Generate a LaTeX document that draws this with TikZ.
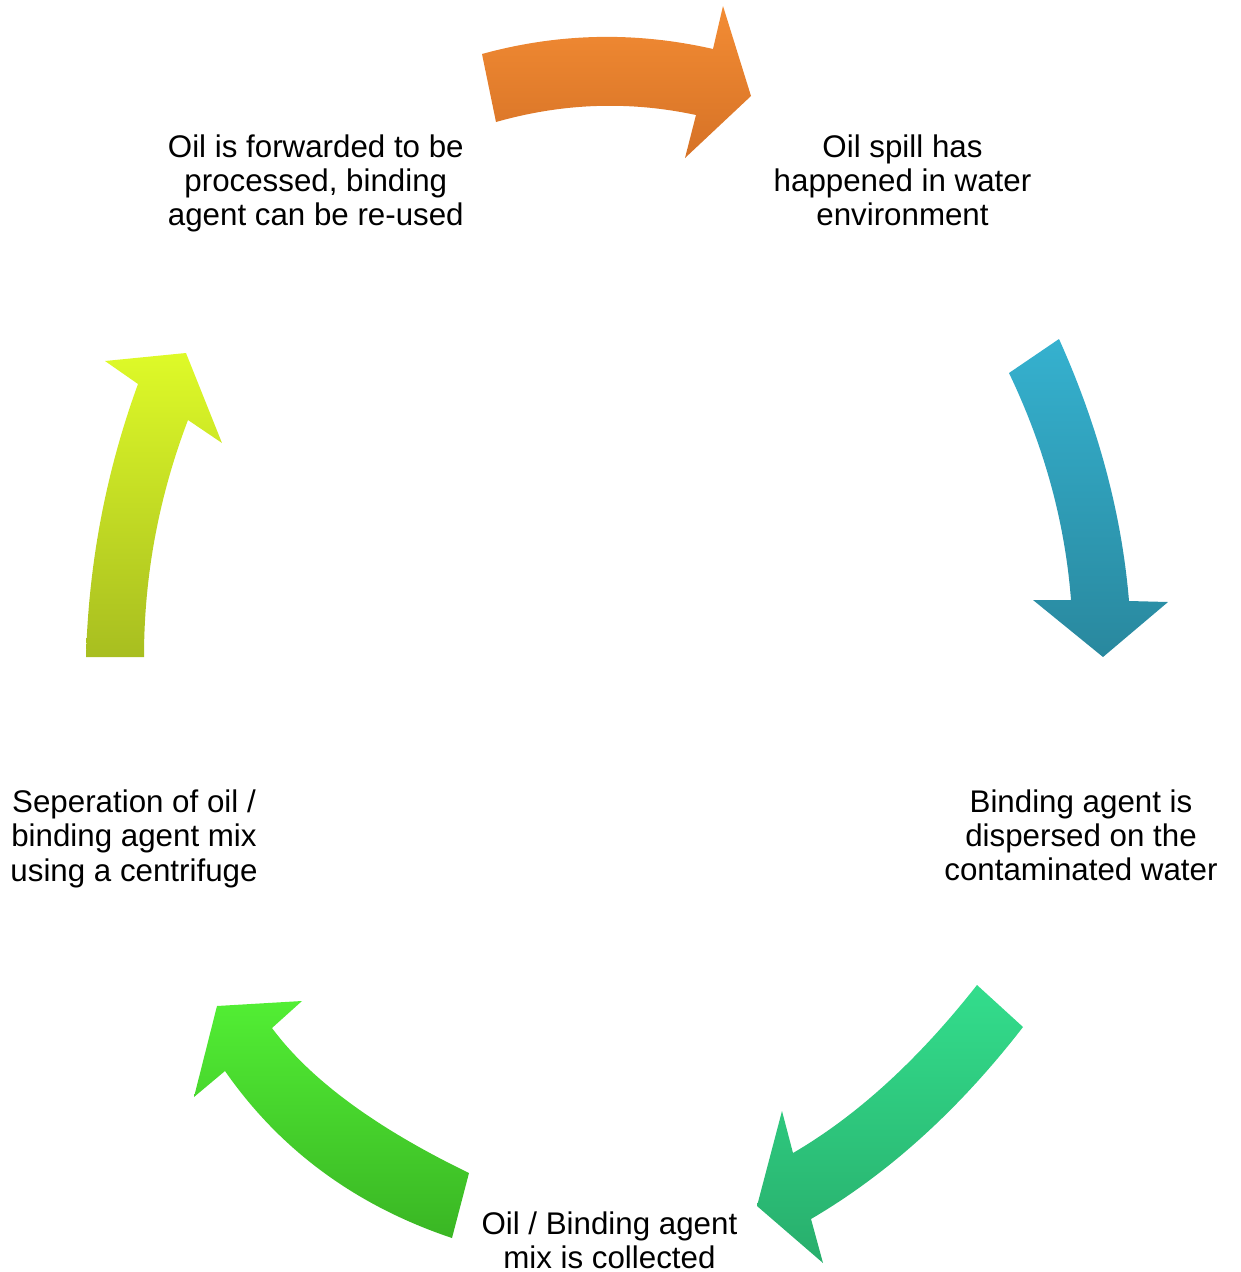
\documentclass[tikz,border=0pt]{standalone}
\usepackage{fontspec}
\setmainfont{Liberation Sans}
\definecolor{orTop}{RGB}{243,140,52}
\definecolor{orBot}{RGB}{214,114,38}
\definecolor{tlTop}{RGB}{53,177,207}
\definecolor{tlBot}{RGB}{41,136,158}
\definecolor{gaTop}{RGB}{51,221,140}
\definecolor{gaBot}{RGB}{40,174,108}
\definecolor{gbTop}{RGB}{82,238,52}
\definecolor{gbBot}{RGB}{58,182,36}
\definecolor{ygTop}{RGB}{222,250,40}
\definecolor{ygBot}{RGB}{168,190,32}
\tikzset{
  lbl/.style={anchor=north, inner sep=0pt, outer sep=0pt, align=center,
    font=\fontsize{31.3}{34.4}\selectfont},
  cyc/.style={draw=none}
}
\newcommand{\fst}{\rule{0pt}{25pt}}
\begin{document}
\begin{tikzpicture}[x=1pt,y=-1pt]
\useasboundingbox (0,0) rectangle (1240,1272);
% orange arrow (top)
\shade[cyc, top color=orTop, bottom color=orBot]
  (482,54) .. controls (558.3,33) and (635.3,31.3) .. (713,49)
  -- (723,6) -- (751,96) -- (685,158) -- (696,115)
  .. controls (629.3,100.7) and (562.7,103) .. (496,122) -- cycle;
% teal arrow (right)
\shade[cyc, top color=tlTop, bottom color=tlBot]
  (1009,373) -- (1059,339) .. controls (1098.3,426.3) and (1121.7,513.7) .. (1129,601)
  -- (1168,602) -- (1103,657) -- (1033,600) -- (1071,600)
  .. controls (1065,522.3) and (1044.3,446.7) .. (1009,373) -- cycle;
% green arrow (lower right)
\shade[cyc, top color=gaTop, bottom color=gaBot]
  (977,985) -- (1023,1027) .. controls (959,1109.7) and (888.3,1173.7) .. (811,1219)
  -- (823,1263) -- (757,1206) -- (782,1111) -- (793,1153)
  .. controls (857,1115.7) and (918.3,1059.7) .. (977,985) -- cycle;
% green arrow (lower left)
\shade[cyc, top color=gbTop, bottom color=gbBot]
  (452,1238) -- (469,1173) .. controls (376,1128) and (310.3,1079.7) .. (272,1028)
  -- (302,1001) -- (217,1006) -- (194,1097) -- (225,1071)
  .. controls (280,1150) and (355.7,1205.7) .. (452,1238) -- cycle;
% yellow-green arrow (left)
\shade[cyc, top color=ygTop, bottom color=ygBot]
  (86,657) -- (144,657) .. controls (144,576) and (158.7,497) .. (188,420)
  -- (222,443) -- (186,353) -- (105,361) -- (138,384)
  .. controls (106,471.7) and (88.7,562.7) .. (86,657) -- cycle;
% labels
\node[lbl] (spill) at (902.5,132) {\fst Oil spill has\\happened in water\\environment};
\node[lbl] (disp) at (1081,787) {\fst Binding agent is\\dispersed on the\\contaminated water};
\node[lbl] (coll) at (609.4,1209) {\fst Oil / Binding agent\\mix is collected};
\node[lbl] (sep) at (134,787.5) {\fst Seperation of oil /\\binding agent mix\\using a centrifuge};
\node[lbl] (fwd) at (315.8,132) {\fst Oil is forwarded to be\\processed, binding\\agent can be re-used};
\end{tikzpicture}
\end{document}
